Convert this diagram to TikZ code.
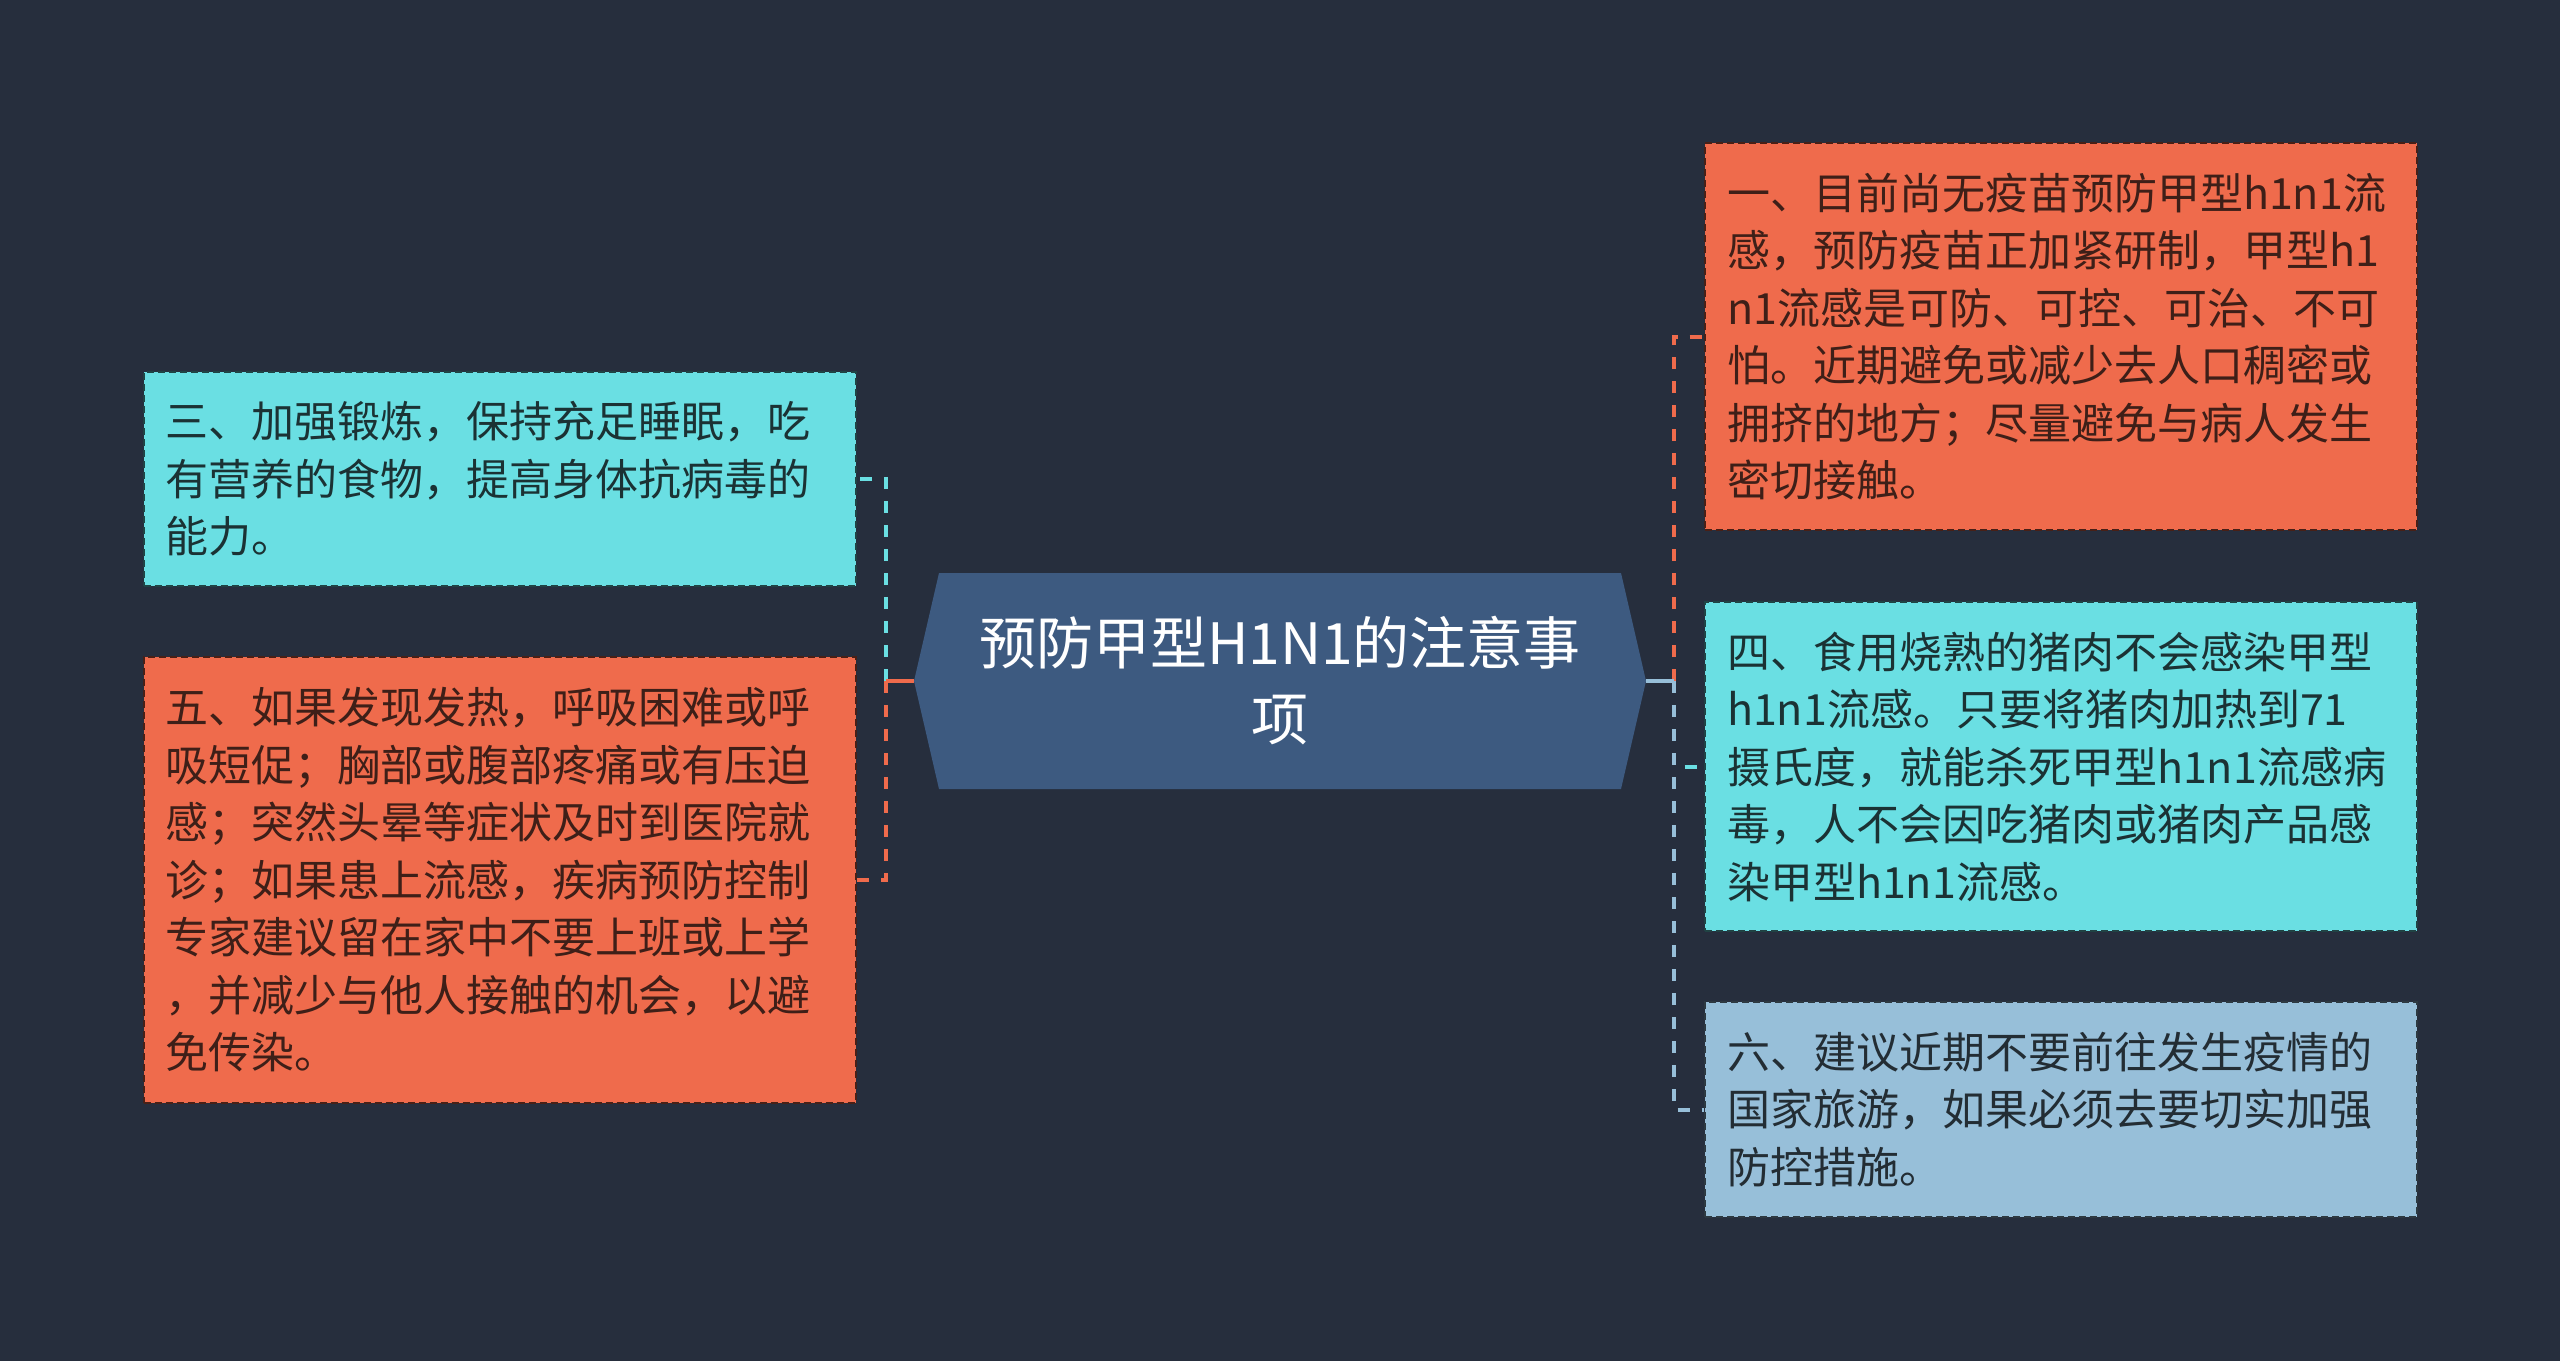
\documentclass[tikz,border=0pt]{standalone}
\usepackage{fontspec}
\newfontfamily\cjk{Noto Sans CJK SC}
\definecolor{bg}{HTML}{262E3D}
\definecolor{cy}{HTML}{6ADFE3}
\definecolor{og}{HTML}{EF6B4C}
\definecolor{lb}{HTML}{97BFD9}
\definecolor{hx}{HTML}{3D5A80}
\definecolor{cyt}{HTML}{1B3234}
\definecolor{ogt}{HTML}{3E1F18}
\definecolor{lbt}{HTML}{232D34}
\tikzset{
  box/.style={rectangle, minimum width=712, text width=668, inner xsep=22, inner ysep=0,
    align=left, line width=2, dash pattern=on 7 off 4,
    font=\cjk\fontsize{43}{57.5}\selectfont},
  cybox/.style={box, fill=cy, draw=cy!30!black, text=cyt},
  ogbox/.style={box, fill=og, draw=og!30!black, text=ogt},
  lbbox/.style={box, fill=lb, draw=lb!30!black, text=lbt},
  conn/.style={line width=4, dash pattern=on 12 off 12},
  stub/.style={line width=4},
}
\begin{document}
\begin{tikzpicture}[x=1pt,y=-1pt]
\fill[bg] (0,0) rectangle (2560,1361);
\useasboundingbox (0,0) rectangle (2560,1361);
% central hexagon
\fill[hx] (914,681) -- (939,573) -- (1621,573) -- (1646,681) -- (1621,789) -- (939,789) -- cycle;
\node[text=white, align=center, font=\cjk\fontsize{57}{76}\selectfont] (c) at (1280,681) {预防甲型H1N1的注意事\\项};
\coordinate (cw) at (914,681);
\coordinate (ce) at (1646,681);
\coordinate (lbus) at (886,681);
\coordinate (rbus) at (1674,681);
% boxes
\node[cybox, minimum height=214] (b3) at (499.5,479) {三、加强锻炼，保持充足睡眠，吃\\有营养的食物，提高身体抗病毒的\\能力。};
\node[ogbox, minimum height=446] (b5) at (499.5,880) {五、如果发现发热，呼吸困难或呼\\吸短促；胸部或腹部疼痛或有压迫\\感；突然头晕等症状及时到医院就\\诊；如果患上流感，疾病预防控制\\专家建议留在家中不要上班或上学\\，并减少与他人接触的机会，以避\\免传染。};
\node[ogbox, minimum height=387] (b1) at (2061,336.5) {一、目前尚无疫苗预防甲型h1n1流\\感，预防疫苗正加紧研制，甲型h1\\n1流感是可防、可控、可治、不可\\怕。近期避免或减少去人口稠密或\\拥挤的地方；尽量避免与病人发生\\密切接触。};
\node[cybox, minimum height=329] (b4) at (2061,766.5) {四、食用烧熟的猪肉不会感染甲型\\h1n1流感。只要将猪肉加热到71\\摄氏度，就能杀死甲型h1n1流感病\\毒，人不会因吃猪肉或猪肉产品感\\染甲型h1n1流感。};
\node[lbbox, minimum height=215] (b6) at (2061,1109.5) {六、建议近期不要前往发生疫情的\\国家旅游，如果必须去要切实加强\\防控措施。};
% connectors
\draw[conn, cy] (lbus) |- (b3.east);
\draw[conn, og] (lbus) |- (b5.east);
\draw[stub, og] (cw) -- (lbus);
\draw[conn, og] (rbus) |- (b1.west);
\draw[conn, cy] (rbus) |- (b4.west);
\draw[conn, lb] (rbus) |- (b6.west);
\draw[stub, lb] (ce) -- (rbus);
\end{tikzpicture}
\end{document}
